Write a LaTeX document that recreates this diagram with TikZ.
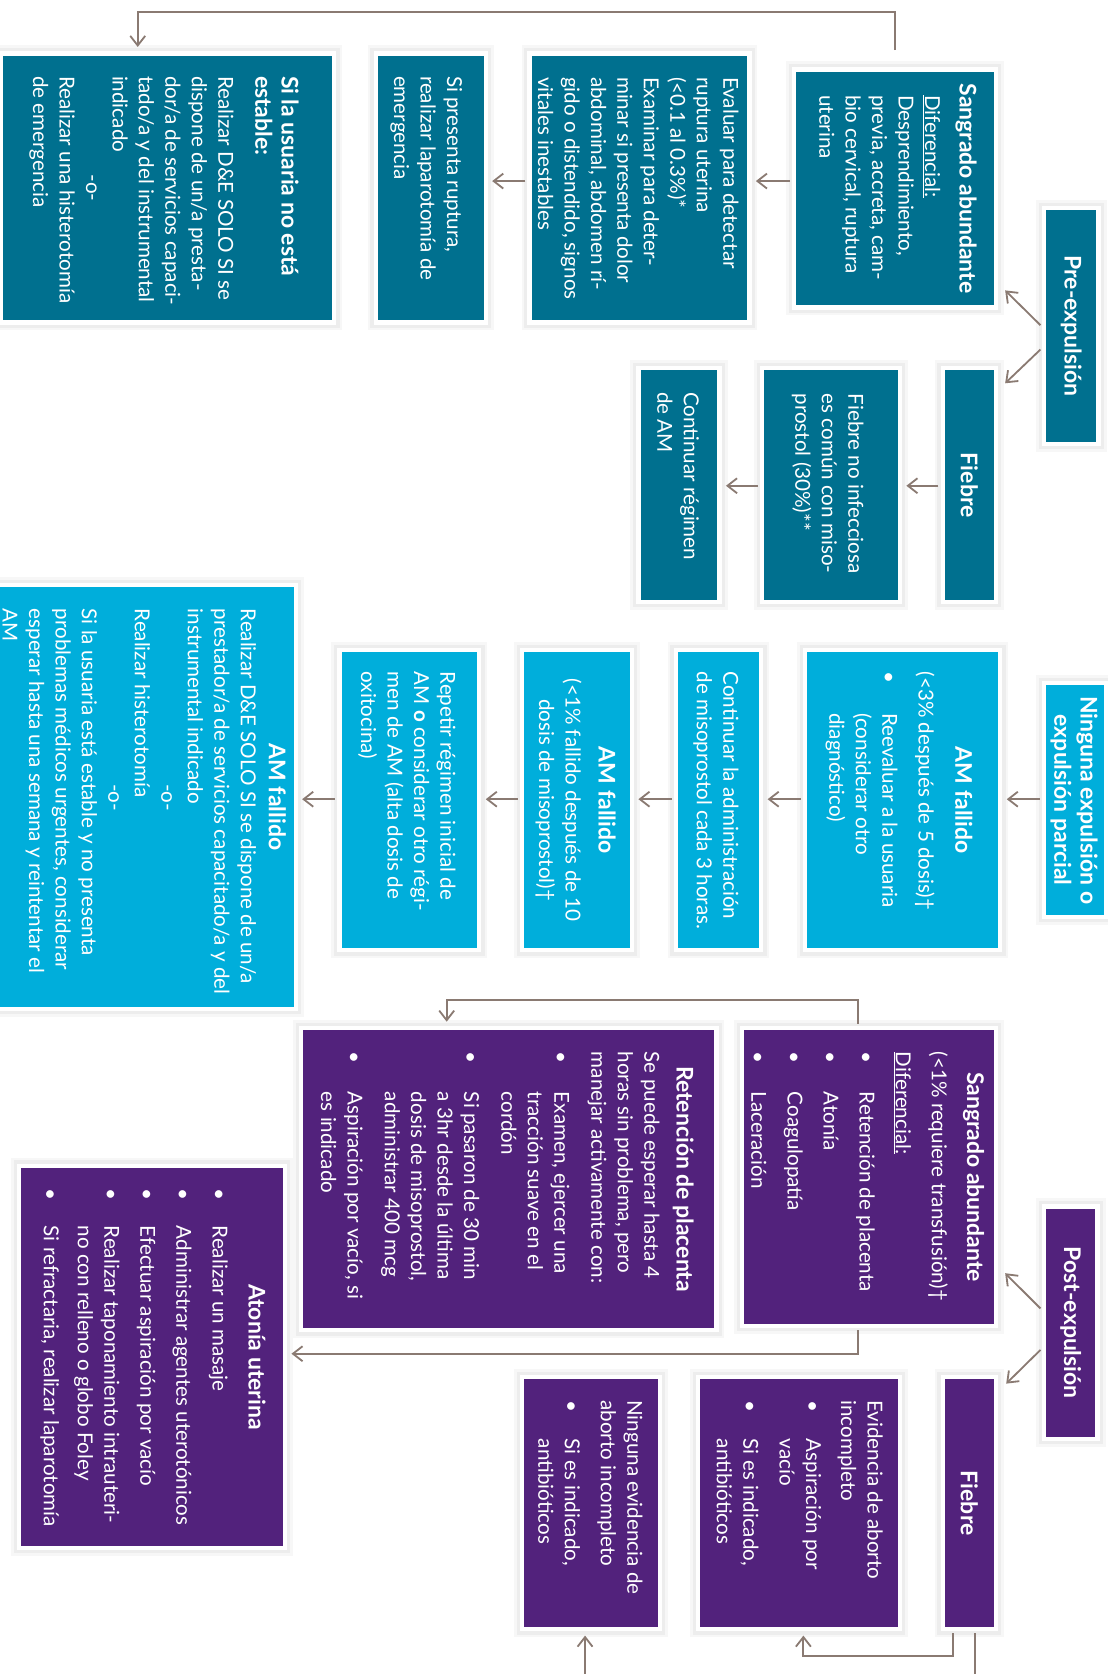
\documentclass[tikz,border=0pt]{standalone}
\usepackage{fontspec}
\setmainfont{Lato}
\usetikzlibrary{arrows.meta}
\definecolor{cTeal}{RGB}{0,112,143}
\definecolor{cCyan}{RGB}{0,174,219}
\definecolor{cPurp}{RGB}{82,34,124}
\definecolor{cArr}{RGB}{138,122,114}
\newcommand\bdf{\fontsize{19.3}{24.8}\selectfont}
\newcommand\hdf{\bfseries\fontsize{21.5}{24.6}\selectfont}
\newcommand\bxx[6]{\node[box, fill=#2, minimum width={#5-#3+4}, minimum height={#6-#4+4}] (#1) at ({(#3+#5)/2},{(#4+#6)/2}) {};}
\newcommand\itm[1]{\makebox[#1][l]{•}}
\tikzset{
  box/.style={rectangle, inner sep=0pt, draw=white, line width=4pt,
    preaction={draw=black!3, line width=15pt},
    preaction={draw=black!7, line width=10pt}},
  hd/.style={rotate=-90, inner sep=0pt, text=white, font=\hdf},
  bd/.style={rotate=-90, inner sep=0pt, text=white, font=\bdf, align=left, anchor=north west},
  arr/.style={draw=cArr, line width=1.7pt, -{Straight Barb[length=9pt,width=14pt]}, shorten >=4pt, shorten <=2pt},
  lin/.style={draw=cArr, line width=1.7pt, shorten <=2pt},
}
\begin{document}
\begin{tikzpicture}[x=1pt,y=-1pt]
\useasboundingbox (0,0) rectangle (1037,1568);
\fill[white] (0,0) rectangle (1037,1568);
% boxes
\bxx{PreExp}{cTeal}{980}{197}{1027}{414}
\bxx{SangPre}{cTeal}{746}{67}{931}{286}
\bxx{Evaluar}{cTeal}{498}{52}{700}{300}
\bxx{SiPres}{cTeal}{354}{52}{453}{300}
\bxx{SiNoEst}{cTeal}{3}{52}{311}{300}
\bxx{FiebrePre}{cTeal}{885}{347}{931}{562}
\bxx{FiebreNo}{cTeal}{716}{347}{841}{562}
\bxx{ContPre}{cTeal}{600}{347}{672}{562}
\bxx{NingExp}{cCyan}{980}{642}{1034}{857}
\bxx{AMfA}{cCyan}{756}{611}{935}{888}
\bxx{ContAdm}{cCyan}{635}{611}{711}{888}
\bxx{AMfB}{cCyan}{491}{611}{590}{888}
\bxx{Repetir}{cCyan}{320}{611}{447}{888}
\bxx{AMfC}{cCyan}{-12}{550}{275}{943}
\bxx{PostExp}{cPurp}{980}{1132}{1026}{1346}
\bxx{SangPost}{cPurp}{697}{965}{931}{1240}
\bxx{Retenc}{cPurp}{284}{965}{669}{1244}
\bxx{Atonia}{cPurp}{20}{1094}{265}{1448}
\bxx{FiebrePost}{cPurp}{885}{1292}{931}{1524}
\bxx{EvidAb}{cPurp}{656}{1292}{841}{1524}
\bxx{NingEv}{cPurp}{491}{1292}{616}{1524}
% headings
\node[hd] (tPreExp) at (1003.5,305.5) {Pre-expulsión};
\node[hd] (tFiebrePre) at (908,454.5) {Fiebre};
\node[hd, align=center] (tNingExp) at (1006,749.5) {Ninguna expulsión o\\expulsión parcial};
\node[hd] (tPostExp) at (1003,1239) {Post-expulsión};
\node[hd] (tFiebrePost) at (908,1408) {Fiebre};
\node[hd, anchor=north] (hSangPre) at (915,176.5) {Sangrado abundante};
\node[hd, anchor=north] (hAMfA) at (911,749.5) {AM fallido};
\node[hd, anchor=north] (hAMfB) at (577,749.5) {AM fallido};
\node[hd, anchor=north] (hAMfC) at (268,746.5) {AM fallido};
\node[hd, anchor=north] (hSangPost) at (922,1102.5) {Sangrado abundante};
\node[hd, anchor=north] (hRetenc) at (650,1104.5) {Retención de placenta};
\node[hd, anchor=north] (hAtonia) at (249,1271) {Atonía uterina};
\node[hd, align=left, anchor=north west] (hSiNoEst) at (280,71) {Si la usuaria no está\\estable:};
% bodies
\node[bd] (bSangPre) at (881,89) {\underline{Diferencial:}\\Desprendimiento,\\previa, accreta, cam-\\bio cervical, ruptura\\uterina};
\node[bd] (bEvaluar) at (692,72) {Evaluar para detectar\\ruptura uterina\\(<0.1 al 0.3\%)*\\Examinar para deter-\\minar si presenta dolor\\abdominal, abdomen rí-\\gido o distendido, signos\\vitales inestables};
\node[bd] (bSiPres) at (433,71) {Si presenta ruptura,\\realizar laparotomía de\\emergencia};
\node[bd] (bSiNoEst) at (219,71) {Realizar D\&E SOLO SI se\\dispone de un/a presta-\\dor/a de servicios capaci-\\tado/a y del instrumental\\indicado\\\makebox[210pt]{-o-}\\Realizar una histerotomía\\de emergencia};
\node[bd] (bFiebreNo) at (809,368.5) {Fiebre no infecciosa\\es común con miso-\\prostol (30\%)**};
\node[bd] (bContPre) at (655,367) {Continuar régimen\\de AM};
\node[bd] (bAMfA) at (875.5,629) {(<3\% después de 5 dosis)†\\[9pt]\itm{39pt}Reevaluar a la usuaria\\\hspace*{39pt}(considerar otro\\\hspace*{39pt}diagnóstico)};
\node[bd] (bContAdm) at (692,629) {Continuar la administración\\de misoprostol cada 3 horas.};
\node[bd, align=center, anchor=north] (bAMfB) at (545,749.5) {(<1\% fallido después de 10\\dosis de misoprostol)†};
\node[bd] (bRepetir) at (427,629) {Repetir régimen inicial de\\AM \textbf{o} considerar otro régi-\\men de AM (alta dosis de\\oxitocina)};
\node[bd] (bAMfC) at (240,570) {Realizar D\&E SOLO SI se dispone de un/a\\prestador/a de servicios capacitado/a y del\\instrumental indicado\\\makebox[354pt]{-o-}\\Realizar histerotomía\\\makebox[354pt]{-o-}\\Si la usuaria está estable y no presenta\\problemas médicos urgentes, considerar\\esperar hasta una semana y reintentar el\\AM};
\node[bd] (bSangPost) at (888,985) {(<1\% requiere transfusión)†\\[9pt]\underline{Diferencial:}\\[9pt]\itm{37.6pt}Retención de placenta\\[9pt]\itm{37.6pt}Atonía\\[9pt]\itm{37.6pt}Coagulopatía\\[9pt]\itm{37.6pt}Laceración};
\node[bd] (bRetenc) at (618,985) {Se puede esperar hasta 4\\horas sin problema, pero\\manejar activamente con:\\[10pt]\itm{37.6pt}Examen, ejercer una\\\hspace*{37.6pt}tracción suave en el\\\hspace*{37.6pt}cordón\\[10pt]\itm{37.6pt}Si pasaron de 30 min\\\hspace*{37.6pt}a 3hr desde la última\\\hspace*{37.6pt}dosis de misoprostol,\\\hspace*{37.6pt}administrar 400 mcg\\[10pt]\itm{37.6pt}Aspiración por vacío, si\\\hspace*{37.6pt}es indicado};
\node[bd] (bAtonia) at (213.5,1113) {\itm{35pt}Realizar un masaje\\[9pt]\itm{35pt}Administrar agentes uterotónicos\\[9pt]\itm{35pt}Efectuar aspiración por vacío\\[9pt]\itm{35pt}Realizar taponamiento intrauteri-\\\hspace*{35pt}no con relleno o globo Foley\\[7pt]\itm{35pt}Si refractaria, realizar laparotomía};
\node[bd] (bEvidAb) at (827,1311.5) {Evidencia de aborto\\incompleto\\[8pt]\itm{36pt}Aspiración por\\\hspace*{36pt}vacío\\[9pt]\itm{36pt}Si es indicado,\\\hspace*{36pt}antibióticos};
\node[bd] (bNingEv) at (602,1311.5) {Ninguna evidencia de\\aborto incompleto\\[9pt]\itm{36pt}Si es indicado,\\\hspace*{36pt}antibióticos};
% connectors
\coordinate (yA) at (0,169.6);
\draw[arr] (SangPre.west |- yA) -- (Evaluar.east |- yA);
\draw[arr] (Evaluar.west |- yA) -- (SiPres.east |- yA);
\coordinate (yB) at (0,455);
\draw[arr] (FiebrePre.west |- yB) -- (FiebreNo.east |- yB);
\draw[arr] (FiebreNo.west |- yB) -- (ContPre.east |- yB);
\coordinate (yC) at (0,748.6);
\draw[arr] (NingExp.west |- yC) -- (AMfA.east |- yC);
\draw[arr] (AMfA.west |- yC) -- (ContAdm.east |- yC);
\draw[arr] (ContAdm.west |- yC) -- (AMfB.east |- yC);
\draw[arr] (AMfB.west |- yC) -- (Repetir.east |- yC);
\draw[arr] (Repetir.west |- yC) -- (AMfC.east |- yC);
\coordinate (ya1) at (0,306);
\coordinate (yb1) at (0,326);
\coordinate (pa) at (941.5,272);
\coordinate (pb) at (941.5,359);
\draw[arr, shorten >=0pt] (PreExp.west |- ya1) -- (pa);
\draw[arr, shorten >=0pt] (PreExp.west |- yb1) -- (pb);
\coordinate (yc1) at (0,1227);
\coordinate (yd1) at (0,1263);
\coordinate (pc) at (941.5,1192.6);
\coordinate (pd) at (942.5,1296);
\draw[arr, shorten >=0pt] (PostExp.west |- yc1) -- (pc);
\draw[arr, shorten >=0pt] (PostExp.west |- yd1) -- (pd);
\coordinate (t1) at (838,47);
\coordinate (t2) at (129,11);
\draw[arr, shorten <=0pt] (t1) |- (t2) -- (t2 |- SiNoEst.north);
\coordinate (r1) at (803.5,0);
\coordinate (r2) at (418.4,937);
\draw[arr] (SangPost.north -| r1) |- (r2) -- (r2 |- Retenc.north);
\coordinate (r3) at (0,1268);
\draw[arr] (SangPost.south -| r1) |- (Atonia.east |- r3);
\coordinate (f1) at (893,0);
\coordinate (f2) at (752.5,1551);
\draw[arr] (FiebrePost.south -| f1) |- (f2) -- (f2 |- EvidAb.south);
\coordinate (f3) at (913.5,1570);
\draw[lin] (FiebrePost.south -| f3) -- (f3);
\coordinate (f4) at (548,1570);
\draw[arr, shorten <=0pt] (f4) -- (f4 |- NingEv.south);
\end{tikzpicture}
\end{document}
